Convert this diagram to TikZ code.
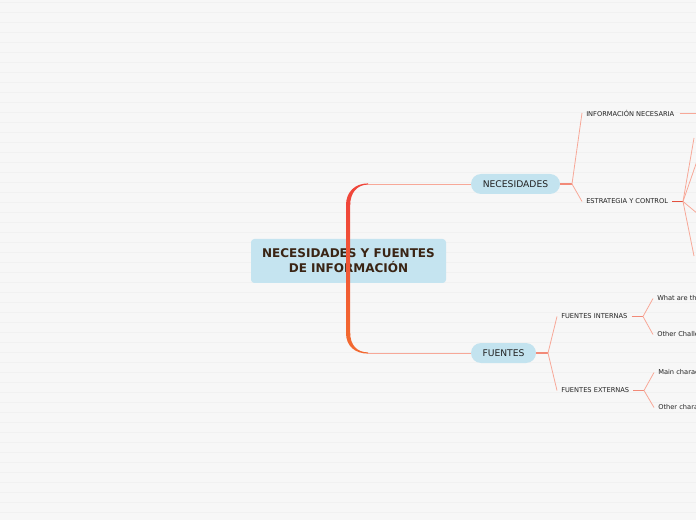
\documentclass[tikz,border=0pt]{standalone}
\usepackage{fontspec}
\setmainfont{DejaVu Sans}
\definecolor{bg}{HTML}{F7F7F7}
\definecolor{stripe}{HTML}{F1F1F1}
\definecolor{boxblue}{HTML}{C5E4F0}
\definecolor{pillblue}{HTML}{C3E3EF}
\definecolor{titlebrown}{HTML}{3A2414}
\definecolor{linkc}{HTML}{F7A898}
\definecolor{stubc}{HTML}{F28A78}
\definecolor{darkstub}{HTML}{E4503E}
\definecolor{spinetop}{HTML}{F0463A}
\definecolor{spinebot}{HTML}{F26830}
\definecolor{labeltext}{HTML}{222222}
\begin{document}
\begin{tikzpicture}[x=0.75pt,y=-0.75pt,
  central/.style={fill=boxblue,rounded corners=2.5pt,minimum width=146.25pt,minimum height=33pt,
    align=center,text=titlebrown,font=\fontsize{9}{11.2}\selectfont\bfseries,inner sep=0pt},
  pill/.style={fill=pillblue,rounded corners=7.5pt,minimum height=15pt,inner sep=0pt,
    text=labeltext,font=\fontsize{6.9}{8}\selectfont},
  leaf/.style={anchor=west,inner xsep=3pt,inner ysep=1pt,text=labeltext,font=\fontsize{5}{6}\selectfont},
  link/.style={draw=linkc,line width=0.6pt},
  stub/.style={draw=stubc,line width=0.9pt},
  dstub/.style={draw=darkstub,line width=0.9pt}]
\useasboundingbox (0,0) rectangle (696,520);
\clip (0,0) rectangle (696,520);
\fill[bg] (0,0) rectangle (696,520);
\foreach \yy in {2.5,12.5,...,520} {\draw[stripe,line width=1.1pt] (0,\yy) -- (696,\yy);}

% nodes
\node[central] (root) at (348.5,261) {NECESIDADES Y FUENTES\\DE INFORMACIÓN};
\node[pill,minimum width=66.75pt] (nec) at (515.5,184) {NECESIDADES};
\node[pill,minimum width=48.75pt] (fue) at (503.5,353) {FUENTES};

\node[leaf] (info) at (582,113) {INFORMACIÓN NECESARIA};
\node[leaf] (estr) at (582,201.5) {ESTRATEGIA Y CONTROL};
\node[leaf] (fint) at (557,316.5) {FUENTES INTERNAS};
\node[leaf] (fext) at (557,390.5) {FUENTES EXTERNAS};
\node[leaf] (l1) at (653,298.5) {What are th};
\node[leaf] (l2) at (653,334.5) {Other Challe};
\node[leaf] (l3) at (654,372.5) {Main charac};
\node[leaf] (l4) at (654,407.5) {Other chara};

% spine
\coordinate (c1) at (368,184);
\coordinate (c2) at (368,353);
\shade[top color=spinetop,bottom color=spinebot] (346,204) rectangle (350.2,334);
\fill[spinetop] (346,205) .. controls (346,192) and (355,183.4) .. (368,183.4)
  -- (368,184.6) .. controls (357,184.6) and (350.2,193) .. (350.2,205) -- cycle;
\fill[spinebot] (346,333) .. controls (346,346) and (355,353.6) .. (368,353.6)
  -- (368,352.4) .. controls (357,352.4) and (350.2,345) .. (350.2,333) -- cycle;
\draw[link] (c1) -- (nec.west);
\draw[link] (c2) -- (fue.west);

% NECESIDADES branch
\coordinate (j1) at (572,184);
\draw[stub] (nec.east) -- (j1);
\draw[link] (j1) -- (info.west);
\draw[link] (j1) -- (estr.west);
\coordinate (infoend) at (700,113);
\draw[link] (info.east) ++(1,0) -- (infoend);
\coordinate (j2) at (683,201.5);
\draw[dstub] (estr.east) -- (j2);
\coordinate (e1) at (694,138);
\coordinate (e2) at (697,161);
\coordinate (e3) at (698,214);
\coordinate (e4) at (694,256);
\draw[link] (j2) -- (e1);
\draw[link] (j2) -- (e2);
\draw[link] (j2) -- (e3);
\draw[link] (j2) -- (e4);

% FUENTES branch
\coordinate (j3) at (548,353);
\draw[stub] (fue.east) -- (j3);
\draw[link] (j3) -- (fint.west);
\draw[link] (j3) -- (fext.west);
\coordinate (j4) at (643,316.5);
\coordinate (j5) at (644,390.5);
\draw[stub] (fint.east) -- (j4);
\draw[stub] (fext.east) -- (j5);
\draw[link] (j4) -- (l1.west);
\draw[link] (j4) -- (l2.west);
\draw[link] (j5) -- (l3.west);
\draw[link] (j5) -- (l4.west);
\end{tikzpicture}
\end{document}
